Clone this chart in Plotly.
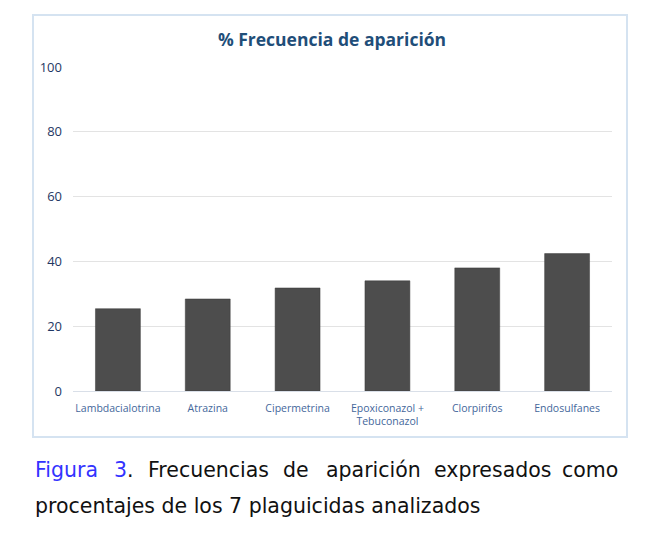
import plotly.graph_objects as go

# values
categories = [
    "Lambdacialotrina",
    "Atrazina",
    "Cipermetrina",
    "Epoxiconazol +<br>Tebuconazol",
    "Clorpirifos",
    "Endosulfanes",
]
frecuencia = [25.4, 28.4, 31.8, 34.0, 38.0, 42.4]
y_ticks = [0, 20, 40, 60, 80, 100]

title_text = "% Frecuencia de aparición"
caption_words = [
    "<span style='color:#3333ff'>Figura</span>",
    "<span style='color:#3333ff'>3</span>.",
    "Frecuencias",
    "de",
    "aparición",
    "expresados",
    "como",
]
caption_line2 = "procentajes de los 7 plaguicidas analizados"

# plot area on the page: x 73..612, y 67..391 (page has 8px body margin)
PX0, PX1, PY0, PY1 = 73, 612, 67, 391


def px_x(px):
    return (px - PX0) / (PX1 - PX0)


def px_y(py):
    return (PY1 - py) / (PY1 - PY0)


fig = go.Figure(
    go.Bar(
        x=categories,
        y=frecuencia,
        marker=dict(color="#4d4d4d", line=dict(color="#3a3a3a", width=0.5)),
    )
)

fig.update_layout(
    width=648,
    height=528,
    margin=dict(l=65, r=44, t=59, b=145),
    paper_bgcolor="white",
    plot_bgcolor="white",
    bargap=0.5,
    showlegend=False,
    font=dict(family="Open Sans", color="#1f3864"),
    title=dict(
        text="<b>" + title_text + "</b>",
        x=0.5,
        xanchor="center",
        y=1 - 32 / 528,
        yanchor="middle",
        font=dict(family="Open Sans", size=17.5, color="#1f4e79"),
    ),
)

fig.update_yaxes(
    range=[0, 100],
    tickvals=y_ticks,
    showgrid=True,
    gridcolor="#e3e3e3",
    gridwidth=1,
    zeroline=False,
    showline=False,
    ticks="",
    ticklabelstandoff=10,
    tickfont=dict(size=13, color="#1f3864"),
)
fig.update_xaxes(
    showline=True,
    linecolor="#d9dfe8",
    linewidth=1,
    ticks="",
    ticklabelstandoff=7,
    tickfont=dict(size=10.5, color="#44679b"),
    tickangle=0,
)

# chart frame
fig.add_shape(
    type="rect",
    xref="paper",
    yref="paper",
    x0=px_x(33),
    x1=px_x(627),
    y0=px_y(437),
    y1=px_y(15),
    line=dict(color="#d5e3f1", width=2),
    fillcolor="rgba(0,0,0,0)",
    layer="below",
)

# caption below the chart, first line justified word by word
word_x = [33, 112, 146, 281, 324, 432, 620]
word_anchor = ["left"] * 6 + ["right"]
for word, px, anc in zip(caption_words, word_x, word_anchor):
    fig.add_annotation(
        text=word,
        xref="paper",
        yref="paper",
        x=px_x(px),
        y=px_y(470),
        xanchor=anc,
        yanchor="middle",
        showarrow=False,
        font=dict(family="DejaVu Sans", size=20.5, color="#111111"),
    )
fig.add_annotation(
    text=caption_line2,
    xref="paper",
    yref="paper",
    x=px_x(33),
    y=px_y(506),
    xanchor="left",
    yanchor="middle",
    showarrow=False,
    font=dict(family="DejaVu Sans", size=20.5, color="#111111"),
)

fig.write_html("out.html")
